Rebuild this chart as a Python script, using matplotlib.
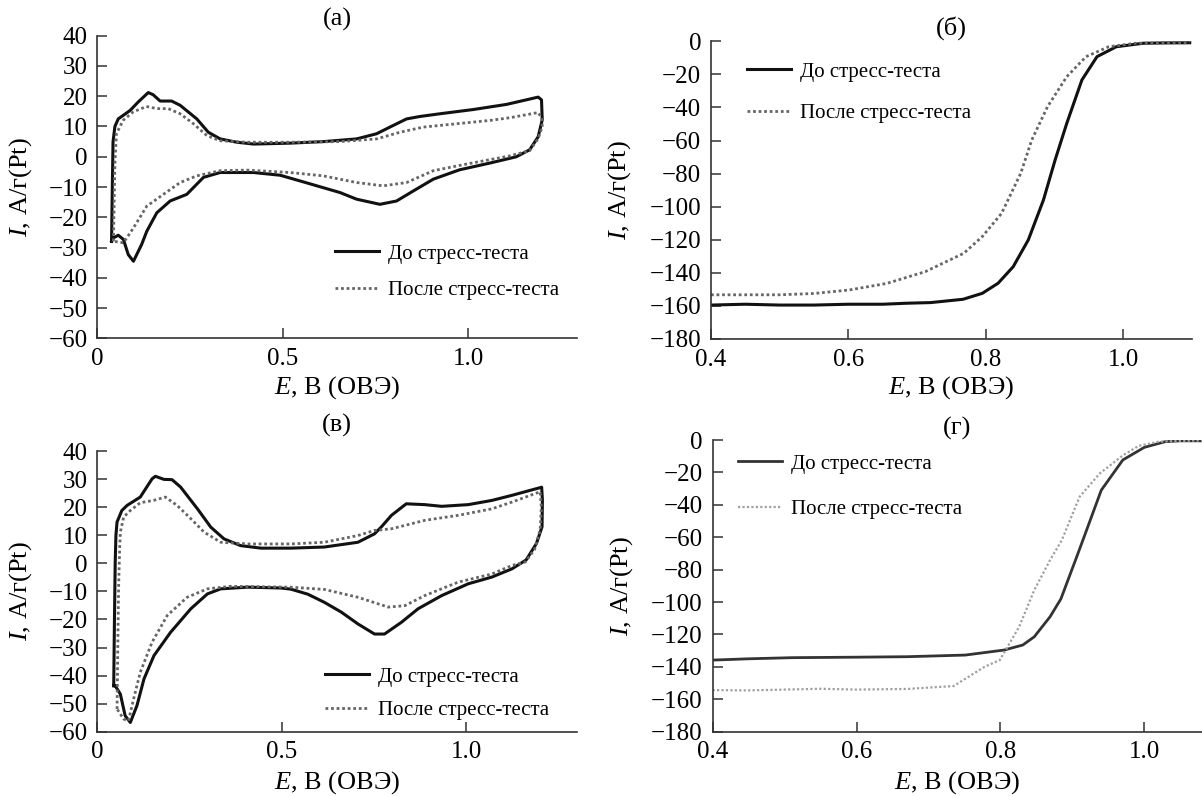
import matplotlib
matplotlib.use("Agg")
import matplotlib.pyplot as plt

plt.rcParams['font.family'] = ['Liberation Serif', 'DejaVu Serif']
plt.rcParams['mathtext.fontset'] = 'custom'
plt.rcParams['mathtext.it'] = 'Liberation Serif:italic'
plt.rcParams['mathtext.rm'] = 'Liberation Serif'

# --- данные ---
# (а) ЦВА, до стресс-теста (замкнутый контур: анодная ветвь, затем катодная)
cv_a_before_E = [0.038, 0.040, 0.042, 0.047, 0.056, 0.088, 0.110, 0.137, 0.150, 0.169, 0.200, 0.223,
                 0.268, 0.299, 0.331, 0.376, 0.421, 0.457, 0.520, 0.609, 0.699, 0.753, 0.789, 0.834,
                 0.870, 0.924, 1.014, 1.104, 1.189, 1.198, 1.200, 1.189, 1.166, 1.130, 1.058, 0.977,
                 0.906, 0.852, 0.807, 0.762, 0.699, 0.654, 0.609, 0.547, 0.493, 0.421, 0.331, 0.286,
                 0.241, 0.196, 0.160, 0.133, 0.119, 0.097, 0.083, 0.070, 0.056, 0.043, 0.038]
cv_a_before_I = [-27.9, -10.0, 5.0, 10.0, 12.5, 15.3, 18.1, 21.2, 20.5, 18.4, 18.4, 17.0,
                 12.5, 8.1, 5.9, 4.8, 4.2, 4.3, 4.5, 5.0, 5.9, 7.6, 9.8, 12.5,
                 13.3, 14.2, 15.6, 17.3, 19.7, 18.8, 12.2, 6.6, 2.3, 0.0, -2.1, -4.3,
                 -7.4, -11.3, -14.6, -15.7, -14.0, -11.8, -10.2, -8.0, -6.1, -5.2, -5.2, -6.8,
                 -12.4, -14.6, -18.5, -24.6, -29.0, -34.5, -32.3, -27.3, -25.9, -26.8, -27.9]
# (а) ЦВА, после стресс-теста
cv_a_after_E = [0.043, 0.045, 0.047, 0.051, 0.069, 0.096, 0.132, 0.160, 0.191, 0.223, 0.259, 0.295,
                0.331, 0.403, 0.520, 0.654, 0.753, 0.816, 0.879, 0.969, 1.059, 1.113, 1.189, 1.198,
                1.200, 1.189, 1.166, 1.113, 0.996, 0.906, 0.834, 0.771, 0.699, 0.609, 0.520, 0.403,
                0.331, 0.268, 0.223, 0.178, 0.133, 0.097, 0.070, 0.043]
cv_a_after_I = [-27.9, -15.0, -2.4, 7.6, 12.0, 14.8, 16.6, 15.9, 15.9, 14.2, 10.9, 7.0,
                5.3, 4.8, 4.8, 5.0, 5.9, 8.1, 9.8, 10.9, 12.0, 12.9, 14.6, 13.0,
                10.0, 6.0, 2.0, 0.3, -2.4, -4.6, -8.5, -9.6, -8.5, -6.3, -5.2, -4.4,
                -4.6, -6.3, -8.5, -12.4, -16.3, -23.5, -28.4, -27.9]

# (в) ЦВА, до стресс-теста
cv_v_before_E = [0.044, 0.046, 0.048, 0.050, 0.053, 0.066, 0.080, 0.116, 0.148, 0.157, 0.180, 0.202,
                 0.225, 0.271, 0.307, 0.343, 0.388, 0.443, 0.497, 0.524, 0.615, 0.706, 0.751, 0.769,
                 0.797, 0.837, 0.887, 0.933, 1.005, 1.069, 1.123, 1.204, 1.206, 1.205, 1.190, 1.162,
                 1.123, 1.069, 1.005, 0.933, 0.869, 0.824, 0.778, 0.751, 0.706, 0.661, 0.615, 0.570,
                 0.524, 0.497, 0.407, 0.334, 0.298, 0.253, 0.198, 0.153, 0.126, 0.107, 0.089, 0.075,
                 0.062, 0.048, 0.044]
cv_v_before_I = [-43.6, -20.0, 0.0, 10.0, 14.7, 18.8, 20.6, 23.6, 30.1, 31.0, 29.9, 29.8,
                 27.2, 19.4, 12.9, 8.7, 6.3, 5.4, 5.4, 5.4, 5.8, 7.5, 10.5, 12.9,
                 17.1, 21.2, 20.9, 20.3, 20.9, 22.4, 24.2, 27.1, 22.5, 13.0, 7.1, 1.2,
                 -2.0, -4.9, -7.3, -11.5, -16.2, -21.0, -25.2, -25.2, -21.6, -17.4, -13.9, -11.0,
                 -9.2, -8.8, -8.5, -9.1, -10.9, -16.2, -24.6, -32.9, -41.2, -50.7, -56.7, -54.3,
                 -46.6, -43.6, -43.6]
# (в) ЦВА, после стресс-теста
cv_v_after_E = [0.053, 0.055, 0.057, 0.060, 0.062, 0.071, 0.089, 0.116, 0.152, 0.184, 0.216, 0.253,
                0.289, 0.334, 0.407, 0.524, 0.615, 0.706, 0.751, 0.797, 0.887, 0.978, 1.069, 1.123,
                1.200, 1.203, 1.200, 1.185, 1.160, 1.123, 1.069, 0.978, 0.887, 0.833, 0.788, 0.706,
                0.615, 0.524, 0.361, 0.298, 0.243, 0.189, 0.148, 0.116, 0.098, 0.084, 0.071, 0.053]
cv_v_after_I = [-51.9, -30.0, -10.0, 5.0, 11.1, 16.5, 18.8, 21.6, 22.4, 23.6, 20.6, 15.9,
                11.1, 7.5, 6.9, 6.9, 7.5, 9.9, 11.7, 12.3, 15.3, 17.1, 19.4, 21.8,
                25.5, 20.0, 12.0, 5.0, 0.5, -0.8, -3.8, -6.7, -11.5, -15.1, -15.6, -12.1,
                -9.3, -8.5, -8.2, -9.1, -12.1, -18.6, -28.1, -38.8, -48.3, -56.1, -55.5, -51.9]

# (б) поляризационные кривые
lsv_b_before_E = [0.40, 0.45, 0.50, 0.55, 0.60, 0.65, 0.684, 0.72, 0.767, 0.795, 0.818, 0.840,
                  0.862, 0.884, 0.901, 0.918, 0.940, 0.962, 0.990, 1.029, 1.06, 1.097]
lsv_b_before_I = [-159.5, -159.0, -159.5, -159.5, -159.0, -159.0, -158.4, -158.0, -156.0, -152.4, -146.3, -136.3,
                  -120.1, -96.0, -71.8, -49.6, -23.4, -9.3, -3.3, -1.2, -1.0, -0.9]
lsv_b_after_E = [0.40, 0.45, 0.50, 0.55, 0.601, 0.656, 0.712, 0.768, 0.795, 0.823, 0.851, 0.867,
                 0.890, 0.918, 0.946, 0.979, 1.018, 1.06, 1.097]
lsv_b_after_I = [-153.3, -153.3, -153.3, -152.5, -150.4, -146.4, -139.3, -128.2, -118.1, -104.1, -79.8, -59.7,
                 -39.5, -21.4, -9.3, -3.3, -1.2, -0.9, -0.9]

# (г) поляризационные кривые
lsv_g_before_E = [0.40, 0.45, 0.511, 0.60, 0.671, 0.751, 0.805, 0.831, 0.847, 0.869, 0.884, 0.906,
                  0.916, 0.94, 0.97, 1.0, 1.029, 1.05, 1.08]
lsv_g_before_I = [-135.8, -135.0, -134.3, -134.0, -133.7, -132.7, -129.6, -126.5, -121.4, -109.0, -98.0, -72.0,
                  -60.0, -31.0, -12.3, -4.5, -1.0, -0.5, -0.5]
lsv_g_after_E = [0.40, 0.45, 0.50, 0.55, 0.60, 0.671, 0.735, 0.756, 0.778, 0.799, 0.81, 0.826,
                 0.847, 0.869, 0.885, 0.91, 0.938, 0.97, 0.992, 1.02, 1.05, 1.08]
lsv_g_after_I = [-154.3, -154.5, -154.0, -153.5, -154.0, -153.6, -151.8, -146.0, -139.9, -135.8, -127.5, -115.2,
                 -92.6, -74.0, -62.0, -35.0, -20.6, -9.5, -3.6, -1.0, -0.5, -0.3]

labels = ['До стресс-теста', 'После стресс-теста']
titles = ['(а)', '(б)', '(в)', '(г)']
xlabel = r'$\mathit{E}$, В (ОВЭ)'
ylabel = r'$\mathit{I}$, А/г(Pt)'

DOT = (0, (1, 1))
TICK_FS = 18
LABEL_FS = 19
LEG_FS = 15

fig = plt.figure(figsize=(12.02, 7.97), dpi=100)
ax_a = fig.add_axes([0.0811, 0.5753, 0.399, 0.380])
ax_b = fig.add_axes([0.5915, 0.5747, 0.400, 0.3735])
ax_v = fig.add_axes([0.0811, 0.0819, 0.399, 0.3522])
ax_g = fig.add_axes([0.5928, 0.0819, 0.4072, 0.366])


def style(ax, ylab_x, xlab_y):
    for s in ['top', 'right']:
        ax.spines[s].set_visible(False)
    for s in ['left', 'bottom']:
        ax.spines[s].set_linewidth(1.2)
        ax.spines[s].set_color('#333333')
    ax.tick_params(direction='in', length=7, width=1.1, color='#333333',
                   labelsize=TICK_FS, pad=7)
    ax.set_xlabel(xlabel, fontsize=LABEL_FS)
    ax.set_ylabel(ylabel, fontsize=LABEL_FS)
    ax.yaxis.set_label_coords(ylab_x, 0.5)
    ax.xaxis.set_label_coords(0.5, xlab_y)


def legend(ax, anchor, spacing):
    ax.legend(loc='upper left', bbox_to_anchor=anchor, frameon=False, fontsize=LEG_FS,
              handlelength=2.1, handletextpad=0.45, labelspacing=spacing,
              borderpad=0, borderaxespad=0)


# (а)
ax_a.plot(cv_a_before_E, cv_a_before_I, color='#111111', lw=2.2, label=labels[0])
ax_a.plot(cv_a_after_E, cv_a_after_I, color='#666666', lw=2.0, ls=DOT, label=labels[1])
ax_a.set_xlim(0, 1.294)
ax_a.set_ylim(-60, 40)
ax_a.set_xticks([0, 0.5, 1.0])
ax_a.set_xticklabels(['0', '0.5', '1.0'])
ax_a.set_yticks(range(-60, 41, 10))
style(ax_a, -0.132, -0.118)
legend(ax_a, (0.495, 0.312), 0.8)

# (б)
ax_b.plot(lsv_b_before_E, lsv_b_before_I, color='#111111', lw=2.2, label=labels[0])
ax_b.plot(lsv_b_after_E, lsv_b_after_I, color='#666666', lw=2.0, ls=DOT, label=labels[1])
ax_b.set_xlim(0.4, 1.1)
ax_b.set_ylim(-180, 0)
ax_b.set_xticks([0.4, 0.6, 0.8, 1.0])
ax_b.set_yticks(range(-180, 1, 20))
style(ax_b, -0.162, -0.118)
legend(ax_b, (0.075, 0.930), 1.05)

# (в)
ax_v.plot(cv_v_before_E, cv_v_before_I, color='#111111', lw=2.2, label=labels[0])
ax_v.plot(cv_v_after_E, cv_v_after_I, color='#666666', lw=2.0, ls=DOT, label=labels[1])
ax_v.set_xlim(0, 1.3)
ax_v.set_ylim(-60, 40)
ax_v.set_xticks([0, 0.5, 1.0])
ax_v.set_xticklabels(['0', '0.5', '1.0'])
ax_v.set_yticks(range(-60, 41, 10))
style(ax_v, -0.132, -0.135)
legend(ax_v, (0.474, 0.230), 0.65)

# (г)
ax_g.plot(lsv_g_before_E, lsv_g_before_I, color='#333333', lw=2.0, label=labels[0])
ax_g.plot(lsv_g_after_E, lsv_g_after_I, color='#a0a0a0', lw=1.6, ls=DOT, label=labels[1])
ax_g.set_xlim(0.4, 1.08)
ax_g.set_ylim(-180, 0)
ax_g.set_xticks([0.4, 0.6, 0.8, 1.0])
ax_g.set_yticks(range(-180, 1, 20))
style(ax_g, -0.158, -0.13)
legend(ax_g, (0.052, 0.952), 1.25)

# подписи панелей
fig.text(0.2806, 0.975, titles[0], ha='center', va='center', fontsize=LABEL_FS)
fig.text(0.7915, 0.965, titles[1], ha='center', va='center', fontsize=LABEL_FS)
fig.text(0.2806, 0.4668, titles[2], ha='center', va='center', fontsize=LABEL_FS)
fig.text(0.7964, 0.463, titles[3], ha='center', va='center', fontsize=LABEL_FS)

fig.savefig('out.png', dpi=100)
